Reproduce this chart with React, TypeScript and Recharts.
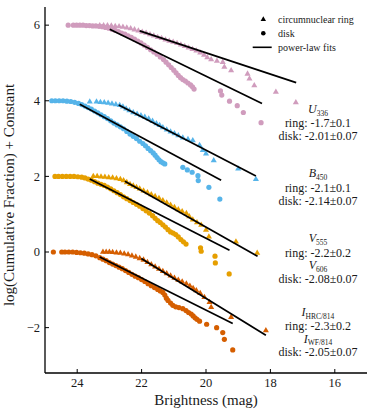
import React from 'react';
import { ScatterChart, Scatter, XAxis, YAxis } from 'recharts';

// ---------- data (magnitude, log cumulative fraction + constant) ----------
const X_TICKS = [24, 22, 20, 18, 16];
const Y_TICKS = [6, 4, 2, 0, -2];

const U336_DISK: [number, number][] = [
  [24.28, 6.0], [24.12, 6.0], [24.02, 6.0], [23.92, 6.0], [23.82, 6.0], [23.72, 5.99], [23.62, 5.99],
  [23.52, 5.98], [23.42, 5.98], [23.32, 5.97], [23.22, 5.96], [23.12, 5.94], [23.02, 5.92], [22.92, 5.89],
  [22.82, 5.86], [22.72, 5.83], [22.62, 5.79], [22.52, 5.76], [22.42, 5.72], [22.32, 5.68], [22.22, 5.63],
  [22.12, 5.58], [22.02, 5.53], [21.92, 5.47], [21.82, 5.41], [21.72, 5.35], [21.62, 5.29], [21.52, 5.23],
  [21.42, 5.16], [21.32, 5.09], [21.24, 5.02], [21.16, 4.95], [21.08, 4.88], [21.0, 4.81], [20.93, 4.74],
  [20.86, 4.67], [20.79, 4.61], [20.72, 4.56], [20.64, 4.52], [20.56, 4.47], [20.48, 4.42], [20.42, 4.37],
  [20.37, 4.31], [19.55, 4.26], [19.51, 4.15], [19.27, 3.99], [19.03, 3.87], [18.84, 3.69], [18.29, 3.42],
];
const U336_RING: [number, number][] = [
  [23.3, 6.0], [23.18, 6.0], [23.06, 6.0], [22.94, 5.99], [22.82, 5.98], [22.7, 5.97], [22.58, 5.96],
  [22.46, 5.94], [22.34, 5.92], [22.22, 5.89], [22.1, 5.86], [21.98, 5.83], [21.86, 5.8], [21.74, 5.76],
  [21.62, 5.73], [21.5, 5.69], [21.38, 5.66], [21.26, 5.62], [21.14, 5.59], [21.02, 5.56], [20.9, 5.53],
  [20.78, 5.49], [20.66, 5.45], [20.54, 5.41], [20.42, 5.37], [20.3, 5.33], [20.18, 5.28], [20.06, 5.22],
  [19.96, 5.15], [19.84, 5.1], [19.66, 5.06], [19.48, 5.03], [19.43, 4.9], [19.22, 4.81], [18.71, 4.72],
  [18.65, 4.59], [18.5, 4.41], [17.83, 4.24], [17.21, 3.96],
];
const U336_DISK_FIT: [number, number][] = [[22.99, 5.89], [18.26, 3.93]];
const U336_RING_FIT: [number, number][] = [[22.06, 5.85], [17.2, 4.48]];

const B450_DISK: [number, number][] = [
  [24.79, 4.0], [24.68, 4.0], [24.56, 4.0], [24.44, 4.0], [24.32, 3.99], [24.2, 3.98], [24.08, 3.96],
  [23.96, 3.93], [23.86, 3.9], [23.76, 3.86], [23.66, 3.82], [23.56, 3.78], [23.46, 3.73], [23.36, 3.68],
  [23.26, 3.63], [23.16, 3.58], [23.06, 3.53], [22.96, 3.47], [22.86, 3.41], [22.76, 3.36], [22.66, 3.31],
  [22.56, 3.26], [22.46, 3.19], [22.36, 3.12], [22.26, 3.06], [22.16, 3.0], [22.06, 2.93], [21.96, 2.87],
  [21.88, 2.81], [21.8, 2.74], [21.72, 2.68], [21.64, 2.62], [21.58, 2.56], [21.52, 2.5], [21.46, 2.44],
  [21.4, 2.39], [21.34, 2.36], [21.28, 2.33], [20.72, 2.24], [20.58, 2.17], [20.43, 2.11], [20.25, 2.02],
  [20.24, 1.89], [19.91, 1.71], [19.57, 1.4],
];
const B450_RING: [number, number][] = [
  [23.61, 3.98], [23.4, 3.98], [23.28, 3.97], [23.16, 3.96], [23.04, 3.95], [22.92, 3.93], [22.8, 3.91],
  [22.68, 3.89], [22.58, 3.85], [22.48, 3.8], [22.38, 3.75], [22.26, 3.7], [22.14, 3.66], [22.02, 3.62],
  [21.9, 3.58], [21.78, 3.53], [21.66, 3.47], [21.54, 3.41], [21.44, 3.36], [21.34, 3.3], [21.22, 3.24],
  [21.1, 3.19], [20.98, 3.14], [20.86, 3.09], [20.72, 3.03], [20.56, 2.99], [20.41, 2.96], [20.2, 2.83],
  [20.1, 2.7], [20.0, 2.61], [19.76, 2.43], [19.0, 2.21], [18.45, 1.93],
];
const B450_DISK_FIT: [number, number][] = [[23.92, 3.91], [19.53, 1.9]];
const B450_RING_FIT: [number, number][] = [[22.71, 3.89], [18.45, 2.01]];

const V555_DISK: [number, number][] = [
  [24.69, 2.0], [24.58, 2.0], [24.46, 2.0], [24.34, 2.0], [24.22, 2.0], [24.1, 2.0], [23.98, 1.99],
  [23.86, 1.98], [23.76, 1.96], [23.66, 1.93], [23.56, 1.9], [23.46, 1.86], [23.36, 1.82], [23.26, 1.79],
  [23.16, 1.76], [23.06, 1.72], [22.96, 1.67], [22.86, 1.62], [22.76, 1.57], [22.66, 1.52], [22.56, 1.46],
  [22.46, 1.41], [22.36, 1.36], [22.26, 1.31], [22.16, 1.26], [22.06, 1.21], [21.96, 1.15], [21.86, 1.09],
  [21.76, 1.03], [21.66, 0.96], [21.58, 0.89], [21.5, 0.83], [21.42, 0.78], [21.34, 0.72], [21.26, 0.66],
  [21.18, 0.59], [21.1, 0.53], [21.02, 0.5], [20.94, 0.46], [20.86, 0.4], [20.78, 0.33], [20.7, 0.27],
  [20.62, 0.21], [20.17, 0.11], [20.15, 0.02], [19.72, -0.11], [19.71, -0.29], [19.28, -0.58],
];
const V555_RING: [number, number][] = [
  [23.5, 2.01], [23.38, 2.01], [23.26, 2.0], [23.14, 1.99], [23.02, 1.98], [22.9, 1.97], [22.78, 1.95],
  [22.66, 1.93], [22.56, 1.9], [22.46, 1.85], [22.36, 1.8], [22.26, 1.76], [22.16, 1.72], [22.06, 1.68],
  [21.94, 1.63], [21.82, 1.58], [21.7, 1.53], [21.58, 1.48], [21.46, 1.43], [21.34, 1.37], [21.22, 1.31],
  [21.1, 1.25], [20.98, 1.19], [20.86, 1.13], [20.74, 1.08], [20.61, 1.03], [20.52, 0.95], [20.41, 0.86],
  [20.28, 0.79], [20.15, 0.72], [20.0, 0.59], [19.91, 0.41], [19.07, 0.28], [18.41, -0.02],
];
const V555_DISK_FIT: [number, number][] = [[23.61, 1.93], [19.27, 0.045]];
const V555_RING_FIT: [number, number][] = [[22.52, 1.87], [18.4, -0.11]];

const I814_DISK: [number, number][] = [
  [24.74, 0.0], [24.48, 0.0], [24.38, 0.0], [24.26, 0.0], [24.14, 0.0], [24.02, -0.01], [23.9, -0.02],
  [23.78, -0.03], [23.66, -0.05], [23.54, -0.07], [23.42, -0.1], [23.3, -0.15], [23.2, -0.19], [23.1, -0.23],
  [23.0, -0.28], [22.9, -0.32], [22.8, -0.36], [22.7, -0.4], [22.6, -0.44], [22.5, -0.49], [22.4, -0.54],
  [22.3, -0.59], [22.2, -0.64], [22.1, -0.68], [22.0, -0.73], [21.9, -0.78], [21.8, -0.84], [21.7, -0.89],
  [21.6, -0.94], [21.5, -0.99], [21.42, -1.03], [21.34, -1.07], [21.28, -1.14], [21.23, -1.22], [21.18, -1.28],
  [21.1, -1.35], [21.03, -1.41], [20.94, -1.45], [20.84, -1.47], [20.72, -1.5], [20.62, -1.55], [20.54, -1.6],
  [20.46, -1.64], [20.4, -1.69], [20.34, -1.74], [20.28, -1.78], [20.2, -1.83], [19.98, -1.91], [19.67, -2.0],
  [19.48, -2.13], [19.43, -2.31], [19.17, -2.59],
];
const I814_RING: [number, number][] = [
  [23.2, 0.01], [23.1, 0.01], [23.0, 0.01], [22.9, 0.0], [22.78, -0.01], [22.66, -0.02], [22.54, -0.04],
  [22.42, -0.06], [22.3, -0.09], [22.18, -0.12], [22.06, -0.16], [21.94, -0.2], [21.82, -0.26], [21.7, -0.32],
  [21.58, -0.38], [21.46, -0.44], [21.34, -0.5], [21.22, -0.56], [21.1, -0.62], [20.98, -0.68], [20.86, -0.73],
  [20.74, -0.78], [20.61, -0.83], [20.5, -0.89], [20.4, -0.95], [20.3, -1.01], [20.18, -1.08], [20.05, -1.19],
  [19.89, -1.32], [19.84, -1.45], [19.22, -1.72], [18.14, -2.07],
];
const I814_DISK_FIT: [number, number][] = [[23.3, -0.13], [19.17, -1.89]];
const I814_RING_FIT: [number, number][] = [[22.01, -0.17], [18.14, -2.2]];

// ---------- styling ----------
const C_U = '#D09CBD';
const C_B = '#56B4E9';
const C_V = '#E69F00';
const C_I = '#D55E00';
const SERIF = '"Liberation Serif", "Times New Roman", serif';
const TXT = '#1a1a1a';

const pts = (a: [number, number][]) => a.map(([x, y]) => ({ x, y }));

const circleShape = (color: string) => (p: any) => (
  <circle cx={p.cx} cy={p.cy} r={2.6} fill={color} stroke="none" />
);
const triShape = (color: string) => (p: any) => {
  const { cx, cy } = p;
  const s = 3.2;
  return (
    <polygon
      points={`${cx},${cy - s} ${cx - s * 0.95},${cy + s * 0.65} ${cx + s * 0.95},${cy + s * 0.65}`}
      fill={color}
      stroke="none"
    />
  );
};
const noShape = () => <g />;

const fmt = (v: number) => (v < 0 ? `\u2212${Math.abs(v)}` : `${v}`);

const BottomTick = (p: any) => (
  <g>
    <line x1={p.x} x2={p.x} y1={p.y} y2={p.y - 4} stroke="#000" strokeWidth={1} />
    <text x={p.x} y={p.y + 14} textAnchor="middle" fontSize={12.5} fontFamily={SERIF} fill={TXT}>
      {fmt(p.payload.value)}
    </text>
  </g>
);
const TopTick = (p: any) => (
  <line x1={p.x} x2={p.x} y1={p.y} y2={p.y + 4} stroke="#000" strokeWidth={1} />
);
const LeftTick = (p: any) => (
  <g>
    <line x1={p.x} x2={p.x + 4} y1={p.y} y2={p.y} stroke="#000" strokeWidth={1} />
    <text x={p.x - 5} y={p.y + 4.3} textAnchor="end" fontSize={12.5} fontFamily={SERIF} fill={TXT}>
      {fmt(p.payload.value)}
    </text>
  </g>
);
const RightTick = (p: any) => (
  <line x1={p.x - 4} x2={p.x} y1={p.y} y2={p.y} stroke="#000" strokeWidth={1} />
);

const AX = { xAxisId: 'b', yAxisId: 'l' } as const;

const SERIES = [
  { disk: U336_DISK, ring: U336_RING, color: C_U, dfit: U336_DISK_FIT, rfit: U336_RING_FIT, k: 'u' },
  { disk: B450_DISK, ring: B450_RING, color: C_B, dfit: B450_DISK_FIT, rfit: B450_RING_FIT, k: 'b' },
  { disk: V555_DISK, ring: V555_RING, color: C_V, dfit: V555_DISK_FIT, rfit: V555_RING_FIT, k: 'v' },
  { disk: I814_DISK, ring: I814_RING, color: C_I, dfit: I814_DISK_FIT, rfit: I814_RING_FIT, k: 'i' },
];

const Sub = ({ children }: { children: React.ReactNode }) => (
  <tspan fontSize={7.5} dy={2.5} fontStyle="normal">{children}</tspan>
);

const Band = ({ x, y, name, sub }: { x: number; y: number; name: string; sub: string }) => (
  <text x={x} y={y} textAnchor="middle" fontSize={12} fontFamily={SERIF} fill={TXT}>
    <tspan fontStyle="italic">{name}</tspan>
    <Sub>{sub}</Sub>
  </text>
);
const Line1 = ({ x, y, t }: { x: number; y: number; t: string }) => (
  <text x={x} y={y} textAnchor="middle" fontSize={12} fontFamily={SERIF} fill={TXT}>{t}</text>
);

export default function App() {
  const ax = 318;
  return (
    <div style={{ position: 'absolute', left: 0, top: 0, width: 372, height: 414, background: '#fff' }}>
      <ScatterChart width={372} height={414} margin={{ top: 7, right: 5, bottom: 0, left: 0 }}>
        <XAxis
          xAxisId="b"
          type="number"
          dataKey="x"
          domain={[15, 25]}
          reversed
          ticks={X_TICKS}
          allowDataOverflow
          height={41}
          tickSize={0}
          tickMargin={0}
          tickLine={false}
          tick={BottomTick}
          axisLine={{ stroke: '#000', strokeWidth: 1.3 }}
        />
        <XAxis
          xAxisId="t"
          orientation="top"
          type="number"
          dataKey="x"
          domain={[15, 25]}
          reversed
          ticks={X_TICKS}
          allowDataOverflow
          height={0}
          tickSize={0}
          tickMargin={0}
          tickLine={false}
          tick={TopTick}
          axisLine={{ stroke: '#000', strokeWidth: 1.3 }}
        />
        <YAxis
          yAxisId="l"
          type="number"
          dataKey="y"
          domain={[-3.2, 6.48]}
          ticks={Y_TICKS}
          allowDataOverflow
          width={45}
          tickSize={0}
          tickMargin={0}
          tickLine={false}
          tick={LeftTick}
          axisLine={{ stroke: '#000', strokeWidth: 1.3 }}
        />
        <YAxis
          yAxisId="r"
          orientation="right"
          type="number"
          dataKey="y"
          domain={[-3.2, 6.48]}
          ticks={Y_TICKS}
          allowDataOverflow
          width={0}
          tickSize={0}
          tickMargin={0}
          tickLine={false}
          tick={RightTick}
          axisLine={{ stroke: '#000', strokeWidth: 1.3 }}
        />
        {SERIES.map((s) => (
          <Scatter
            key={s.k + 'd'}
            {...AX}
            data={pts(s.disk)}
            shape={circleShape(s.color)}
            isAnimationActive={false}
          />
        ))}
        {SERIES.map((s) => (
          <Scatter
            key={s.k + 'r'}
            {...AX}
            data={pts(s.ring)}
            shape={triShape(s.color)}
            isAnimationActive={false}
          />
        ))}
        {SERIES.map((s) => (
          <Scatter
            key={s.k + 'df'}
            {...AX}
            data={pts(s.dfit)}
            fill="#000"
            line={{ stroke: '#000', strokeWidth: 1.7 }}
            shape={noShape}
            isAnimationActive={false}
          />
        ))}
        {SERIES.map((s) => (
          <Scatter
            key={s.k + 'rf'}
            {...AX}
            data={pts(s.rfit)}
            fill="#000"
            line={{ stroke: '#000', strokeWidth: 1.7 }}
            shape={noShape}
            isAnimationActive={false}
          />
        ))}
      </ScatterChart>
      <svg
        width={372}
        height={414}
        style={{ position: 'absolute', left: 0, top: 0, pointerEvents: 'none' }}
      >
        {/* legend */}
        <polygon points="263.3,16.3 260.6,21 266,21" fill="#000" />
        <text x={278} y={22.5} fontSize={10} fontFamily={SERIF} fill={TXT}>circumnuclear ring</text>
        <circle cx={263.3} cy={33.3} r={2.3} fill="#000" />
        <text x={278} y={36.8} fontSize={10} fontFamily={SERIF} fill={TXT}>disk</text>
        <line x1={252.7} x2={271.7} y1={47.3} y2={47.3} stroke="#000" strokeWidth={1.6} />
        <text x={278} y={50.8} fontSize={10} fontFamily={SERIF} fill={TXT}>power-law fits</text>

        {/* annotations */}
        <Band x={ax} y={113} name="U" sub="336" />
        <Line1 x={ax} y={126.5} t="ring: -1.7±0.1" />
        <Line1 x={ax} y={139.5} t="disk: -2.01±0.07" />

        <Band x={ax} y={177} name="B" sub="450" />
        <Line1 x={ax} y={192} t="ring: -2.1±0.1" />
        <Line1 x={ax} y={205} t="disk: -2.14±0.07" />

        <Band x={ax} y={242} name="V" sub="555" />
        <Line1 x={ax} y={256.5} t="ring: -2.2±0.2" />
        <Band x={ax} y={269} name="V" sub="606" />
        <Line1 x={ax} y={283} t="disk: -2.08±0.07" />

        <Band x={ax} y={316} name="I" sub="HRC/814" />
        <Line1 x={ax} y={330} t="ring: -2.3±0.2" />
        <Band x={ax} y={342.5} name="I" sub="WF/814" />
        <Line1 x={ax} y={356} t="disk: -2.05±0.07" />

        {/* axis titles */}
        <text x={206} y={405} textAnchor="middle" fontSize={15} fontFamily={SERIF} fill={TXT}>
          Brightness (mag)
        </text>
        <text
          x={0}
          y={0}
          transform="translate(13.5,195) rotate(-90)"
          textAnchor="middle"
          fontSize={15}
          fontFamily={SERIF}
          fill={TXT}
        >
          log(Cumulative Fraction) + Constant
        </text>
      </svg>
    </div>
  );
}
